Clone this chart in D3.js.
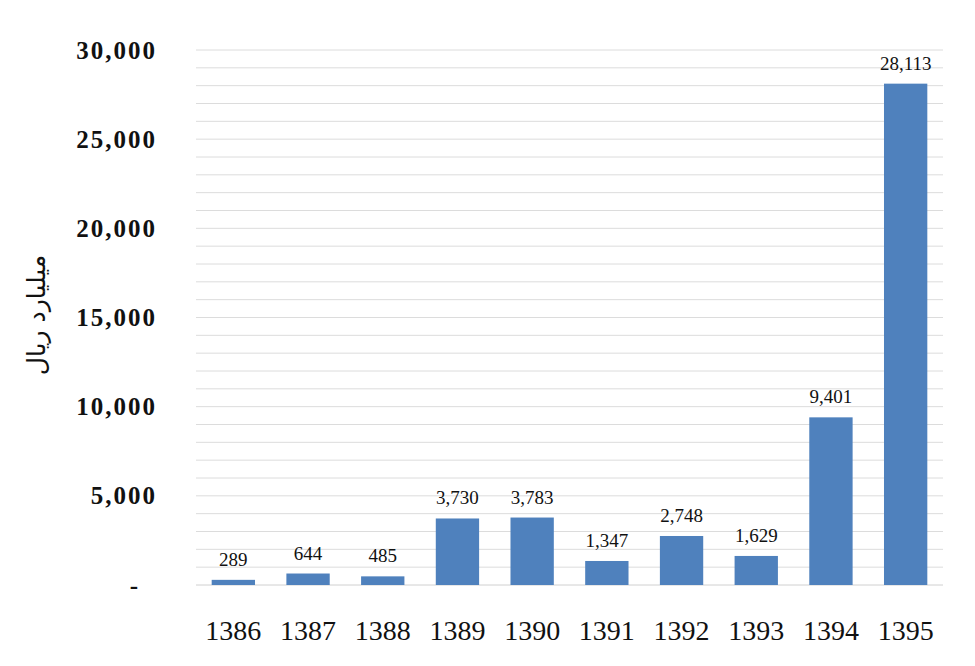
<!DOCTYPE html>
<html><head><meta charset="utf-8">
<script src="https://cdn.jsdelivr.net/npm/d3@7"></script>
<style>
body{margin:0;background:#fff;}
text{font-family:"Liberation Serif","DejaVu Serif",serif;font-variant-numeric:oldstyle-nums;}
</style></head>
<body><svg id="c" width="975" height="666"></svg>
<script>
const years = ["1386","1387","1388","1389","1390","1391","1392","1393","1394","1395"];
const values = [289, 644, 485, 3730, 3783, 1347, 2748, 1629, 9401, 28113];
const yTicks = [0, 5000, 10000, 15000, 20000, 25000, 30000];
const yTitle = "میلیارد ریال";

const svg = d3.select("#c");
const m = {l:196, r:943, t:50, b:585};
const x = d3.scaleBand().domain(years).range([m.l, m.r]).paddingInner(0.42).paddingOuter(0.21);
const y = d3.scaleLinear().domain([0, 30000]).range([m.b, m.t]);
const fmt = d3.format(",");

// gridlines every 1000
const grid = d3.range(1000, 30001, 1000);
svg.append("g").selectAll("line").data(grid).join("line")
  .attr("x1", m.l).attr("x2", m.r)
  .attr("y1", d => y(d)).attr("y2", d => y(d))
  .attr("stroke", "#dcdcdc").attr("stroke-width", 1);

// baseline
svg.append("line").attr("x1", m.l).attr("x2", m.r)
  .attr("y1", y(0)).attr("y2", y(0)).attr("stroke", "#d0d0d0");

// y axis labels
const yAxis = d3.axisLeft(y).tickValues(yTicks).tickSize(0).tickPadding(0)
  .tickFormat(d => d === 0 ? "-" : fmt(d));
const ya = svg.append("g").attr("transform", `translate(157,0)`).call(yAxis);
ya.select(".domain").remove();
ya.selectAll("text").attr("font-size", 25).attr("font-weight", "bold").attr("fill", "#111")
  .style("font-family", '"Liberation Serif", serif').style("letter-spacing", "2px")
  .attr("dy", "0.32em")
  .attr("dx", d => d === 0 ? -17 : 0);

// x axis labels
const xAxis = d3.axisBottom(x).tickSize(0).tickPadding(0);
const xa = svg.append("g").attr("transform", `translate(0,630)`).call(xAxis);
xa.select(".domain").remove();
xa.selectAll("text").attr("font-size", 28).attr("fill", "#111").attr("dy", "0.35em")
  .style("font-family", '"Liberation Serif", serif');

// bars
svg.append("g").selectAll("rect").data(values).join("rect")
  .attr("x", (d,i) => x(years[i])).attr("width", x.bandwidth())
  .attr("y", d => y(d)).attr("height", d => y(0) - y(d))
  .attr("fill", "#4f81bd");

// data labels
svg.append("g").selectAll("text").data(values).join("text")
  .attr("x", (d,i) => x(years[i]) + x.bandwidth()/2)
  .attr("y", d => y(d) - 14)
  .attr("text-anchor", "middle").attr("font-size", 19).attr("fill", "#111")
  .text(d => fmt(d));

// y title
svg.append("text").attr("transform", "translate(45,315) rotate(-90)")
  .attr("text-anchor", "middle").attr("font-size", 25).attr("fill", "#111")
  .style("font-family", '"DejaVu Sans", sans-serif')
  .text(yTitle);
</script></body></html>
